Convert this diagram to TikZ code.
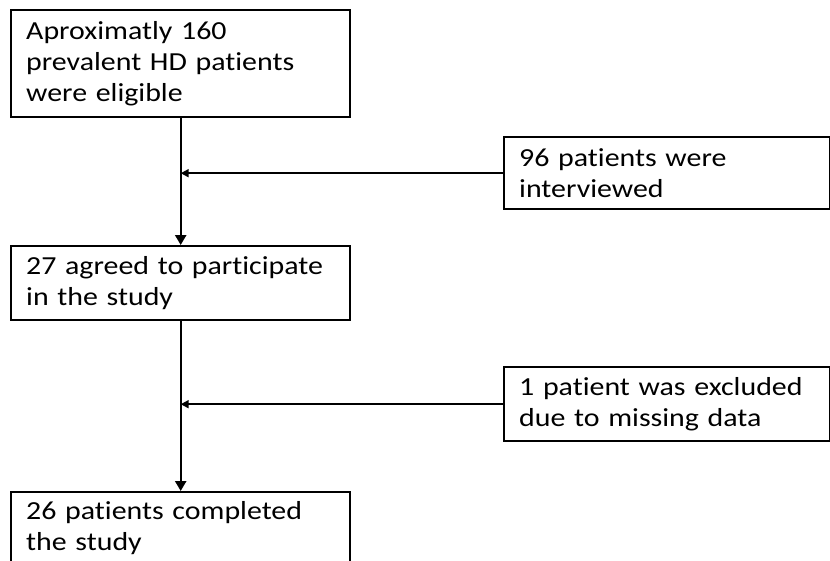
\documentclass[tikz,border=0pt]{standalone}
\usepackage{fontspec}
\setmainfont{Carlito}[Ligatures=NoCommon, FakeStretch=1.15]
\usetikzlibrary{arrows.meta,positioning}
\definecolor{cLine}{HTML}{000000}
\definecolor{cText}{HTML}{000000}
\tikzset{
  blk/.style={draw=cLine, line width=2.4pt, anchor=north west, fill=white,
              text=cText, align=left, inner xsep=15pt, inner ysep=0pt,
              text width=309pt, font=\fontsize{26}{31}\selectfont},
  sideblk/.style={blk, text width=296pt},
  arr/.style={-{Triangle[length=10pt, width=11pt]}, line width=2.4pt, cLine},
  sidearr/.style={-{Triangle[length=8pt, width=8pt]}, line width=1.8pt, cLine}
}
\begin{document}
\begin{tikzpicture}[x=1pt, y=-1pt]
\useasboundingbox (0,0) rectangle (830,560);
% main column
\node[blk, minimum height=107pt] (elig) at (10,9)
  {Aproximatly 160\\prevalent HD patients\\were eligible};
\node[blk, minimum height=74pt] (agree) at (10,245)
  {27 agreed to participate\\in the study};
\node[blk, minimum height=72pt] (done) at (10,491)
  {26 patients completed\\the study};
% side boxes
\node[sideblk, minimum height=72pt] (interv) at (503,136)
  {96 patients were\\interviewed};
\node[sideblk, minimum height=74pt] (excl) at (503,366)
  {1 patient was excluded\\due to missing data};
% joins on the vertical line
\coordinate (j1) at (elig.south |- interv.west);
\coordinate (j2) at (agree.south |- excl.west);
\draw[arr] (elig.south) -- (agree.north);
\draw[arr] (agree.south) -- (done.north);
\draw[sidearr] (interv.west) -- (j1);
\draw[sidearr] (excl.west) -- (j2);
\end{tikzpicture}
\end{document}
